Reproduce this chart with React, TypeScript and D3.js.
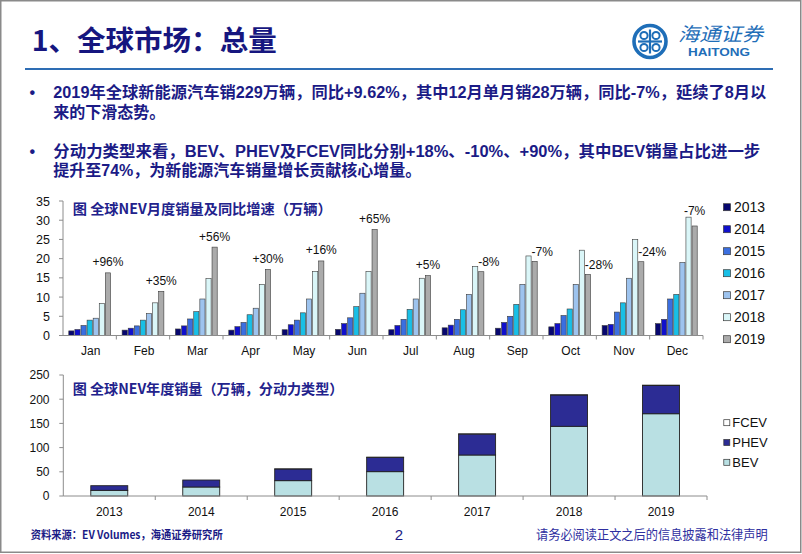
import React from "react";
import * as d3 from "d3";

// ---------- data ----------
const months = ["Jan", "Feb", "Mar", "Apr", "May", "Jun", "Jul", "Aug", "Sep", "Oct", "Nov", "Dec"];
const yearKeys = ["2013", "2014", "2015", "2016", "2017", "2018", "2019"];
const s2013 = [1.2, 1.4, 1.7, 1.4, 1.5, 1.6, 1.5, 2.0, 1.9, 2.25, 2.6, 3.1];
const s2014 = [1.56, 1.9, 2.5, 2.3, 2.8, 3.1, 2.6, 2.7, 3.4, 3.1, 2.9, 4.2];
const s2015 = [2.6, 2.5, 4.3, 3.4, 4.0, 4.6, 4.2, 4.2, 5.0, 5.2, 6.1, 9.5];
const s2016 = [4.0, 4.0, 6.2, 5.4, 5.9, 7.5, 6.8, 6.7, 8.1, 6.9, 8.5, 10.7];
const s2017 = [4.5, 5.7, 9.5, 7.1, 9.5, 11.0, 9.5, 10.7, 13.3, 13.3, 14.9, 19.0];
const s2018 = [8.3, 8.5, 14.8, 13.3, 16.7, 16.7, 14.9, 18.0, 20.7, 22.2, 25.0, 30.8];
const s2019 = [16.3, 11.5, 23.0, 17.2, 19.4, 27.6, 15.6, 16.6, 19.3, 15.9, 19.2, 28.5];
const yoyLabels = ["+96%", "+35%", "+56%", "+30%", "+16%", "+65%", "+5%", "-8%", "-7%", "-28%", "-24%", "-7%"];
const topTicks = [0, 5, 10, 15, 20, 25, 30, 35];

const annualYears = ["2013", "2014", "2015", "2016", "2017", "2018", "2019"];
const bev = [11.7, 18.6, 31.7, 50.3, 84.7, 144, 170];
const phev = [9.6, 14.4, 24.1, 29.6, 43.3, 64.7, 58.2];
const fcev = [0, 0, 0.1, 0.2, 0.3, 0.4, 0.8];
const typeKeys = ["BEV", "PHEV", "FCEV"];
const bottomTicks = [0, 50, 100, 150, 200, 250];

// ---------- styles ----------
const FONT = "'Liberation Sans', Arial, 'Noto Sans CJK SC', sans-serif";
const CJK = "'Noto Sans CJK SC', 'Liberation Sans', sans-serif";
const NAVY = "#1B1B86";
const AXIS = "#8C8C8C";
const yearColors = ["#07076E", "#1010CC", "#3B6FE0", "#19BFE6", "#9DC3EE", "#DAF6F8", "#ABABAB"];
const typeColors: Record<string, string> = { BEV: "#B9E0E3", PHEV: "#2C2C94", FCEV: "#FFFFFF" };

export default function App() {
  // ---------- top chart scales ----------
  const x0 = d3.scaleBand<string>().domain(months).range([63, 703]);
  const x1 = d3
    .scaleBand<string>()
    .domain(yearKeys)
    .range([0, x0.bandwidth()])
    .paddingInner(0.15)
    .paddingOuter(0.95);
  const yTop = d3.scaleLinear().domain([0, 35]).range([335.5, 201]);
  const monthly = [s2013, s2014, s2015, s2016, s2017, s2018, s2019];

  // ---------- bottom chart scales ----------
  const xb = d3.scaleBand<string>().domain(annualYears).range([63.3, 707]).paddingInner(0.598).paddingOuter(0.299);
  const yb = d3.scaleLinear().domain([0, 250]).range([496, 375]);
  const rows = annualYears.map((yr, i) => ({ year: yr, BEV: bev[i], PHEV: phev[i], FCEV: fcev[i] }));
  const stacked = d3.stack<any>().keys(typeKeys)(rows);

  const cx = (m: string, k: string) => (x0(m) as number) + (x1(k) as number);

  // logo swirl path
  const logoCx = 650;
  const logoCy = 41.5;

  return (
    <svg
      width={802}
      height={554}
      style={{ position: "absolute", left: 0, top: 0, display: "block", background: "#fff" }}
      fontFamily={FONT}
    >
      <rect x={0} y={0} width={802} height={554} fill="#fff" />
      <rect x={0.75} y={0.75} width={800} height={551.5} fill="none" stroke="#8A8A8A" strokeWidth={1.5} />

      {/* header */}
      <text x={31.7} y={51} fontSize={28} fontWeight="bold" fill="#16167F" fontFamily={CJK} textLength={245} lengthAdjust="spacingAndGlyphs">
        1、全球市场：总量
      </text>
      <line x1={25} x2={773} y1={69} y2={69} stroke="#2E6DB4" strokeWidth={1.8} />

      {/* logo */}
      <g>
        <circle cx={logoCx} cy={logoCy} r={16} fill="none" stroke="#1E6EB8" strokeWidth={3.6} />
        <line x1={logoCx} x2={logoCx} y1={logoCy - 12} y2={logoCy + 12} stroke="#1E6EB8" strokeWidth={2.2} />
        <line x1={logoCx - 12} x2={logoCx + 12} y1={logoCy} y2={logoCy} stroke="#1E6EB8" strokeWidth={2.2} />
        {[[-1, -1], [1, -1], [-1, 1], [1, 1]].map(([sx, sy], i) => (
          <circle key={i} cx={logoCx + sx * 6} cy={logoCy + sy * 6} r={3.6} fill="none" stroke="#1E6EB8" strokeWidth={2} />
        ))}
        <text x={678} y={41} fontSize={19} fontStyle="italic" fill="#1E6EB8" fontFamily={CJK} textLength={85} lengthAdjust="spacingAndGlyphs">
          海通证券
        </text>
        <text x={688} y={55.5} fontSize={10.5} fontWeight="bold" fill="#1E6EB8" textLength={62} lengthAdjust="spacingAndGlyphs">
          HAITONG
        </text>
      </g>

      {/* bullets */}
      <g fill={NAVY} fontWeight="bold" fontSize={16}>
        <text x={32.3} y={98} textAnchor="middle">•</text>
        <text x={53.3} y={98} textLength={713} lengthAdjust="spacingAndGlyphs">
          2019年全球新能源汽车销229万辆，同比+9.62%，其中12月单月销28万辆，同比-7%，延续了8月以
        </text>
        <text x={53.3} y={118}>来的下滑态势。</text>
        <text x={32.3} y={156.5} textAnchor="middle">•</text>
        <text x={53.3} y={156.5} textLength={707} lengthAdjust="spacingAndGlyphs">
          分动力类型来看，BEV、PHEV及FCEV同比分别+18%、-10%、+90%，其中BEV销量占比进一步
        </text>
        <text x={53.3} y={175.5}>提升至74%，为新能源汽车销量增长贡献核心增量。</text>
      </g>

      {/* ---------- top chart ---------- */}
      <text x={72.7} y={214} fontSize={14} fontWeight="bold" fill="#22228C" fontFamily={CJK} textLength={259} lengthAdjust="spacingAndGlyphs">
        图 全球NEV月度销量及同比增速（万辆）
      </text>
      {/* y axis */}
      <line x1={63} x2={63} y1={yTop(35)} y2={yTop(0)} stroke={AXIS} />
      {topTicks.map((t) => (
        <g key={t}>
          <line x1={59} x2={63} y1={yTop(t)} y2={yTop(t)} stroke={AXIS} />
          <text x={50} y={yTop(t) + 4.5} fontSize={12.5} textAnchor="end" fill="#111">
            {t}
          </text>
        </g>
      ))}
      {/* bars */}
      {months.map((m, mi) => (
        <g key={m}>
          {yearKeys.map((k, ki) => (
            <rect
              key={k}
              x={cx(m, k)}
              y={yTop(monthly[ki][mi])}
              width={x1.bandwidth()}
              height={yTop(0) - yTop(monthly[ki][mi])}
              fill={yearColors[ki]}
              stroke="#3A3A3A"
              strokeWidth={0.6}
            />
          ))}
        </g>
      ))}
      {/* x axis */}
      <line x1={63} x2={703} y1={yTop(0)} y2={yTop(0)} stroke={AXIS} />
      {months.map((m) => (
        <line key={m} x1={(x0(m) as number) + x0.bandwidth()} x2={(x0(m) as number) + x0.bandwidth()} y1={yTop(0)} y2={yTop(0) + 4} stroke={AXIS} />
      ))}
      {months.map((m) => (
        <text key={m} x={(x0(m) as number) + x0.bandwidth() / 2 + 1} y={355} fontSize={12} textAnchor="middle" fill="#111">
          {m}
        </text>
      ))}
      {/* yoy labels */}
      {months.map((m, mi) => {
        const lab = yoyLabels[mi];
        const top19 = yTop(s2019[mi]);
        const left19 = cx(m, "2019");
        const isLast = mi === months.length - 1;
        if (isLast) {
          const top = Math.min(top19, yTop(s2018[mi]));
          return (
            <text key={m} x={left19 + x1.bandwidth() / 2} y={top - 2.5} fontSize={12} textAnchor="middle" fill="#111">
              {lab}
            </text>
          );
        }
        if (lab.startsWith("-")) {
          return (
            <text key={m} x={left19 - 0.5} y={top19 - 5.5} fontSize={12} textAnchor="start" fill="#111">
              {lab}
            </text>
          );
        }
        return (
          <text key={m} x={left19 + x1.bandwidth() / 2} y={top19 - 6.5} fontSize={12} textAnchor="middle" fill="#111">
            {lab}
          </text>
        );
      })}
      {/* top legend */}
      {yearKeys.map((k, ki) => (
        <g key={k}>
          <rect x={723.5} y={207.3 + 22 * ki - 3.6} width={7} height={7} fill={yearColors[ki]} stroke="#3A3A3A" strokeWidth={0.7} />
          <text x={734} y={207.3 + 22 * ki + 5} fontSize={14} fill="#111">
            {k}
          </text>
        </g>
      ))}

      {/* ---------- bottom chart ---------- */}
      <text x={72.7} y={394} fontSize={14} fontWeight="bold" fill="#22228C" fontFamily={CJK} textLength={270.7} lengthAdjust="spacingAndGlyphs">
        图 全球NEV年度销量（万辆，分动力类型）
      </text>
      <line x1={63.3} x2={63.3} y1={yb(250)} y2={yb(0)} stroke={AXIS} />
      {bottomTicks.map((t) => (
        <g key={t}>
          <line x1={59.3} x2={63.3} y1={yb(t)} y2={yb(t)} stroke={AXIS} />
          <text x={49.5} y={yb(t) + 4.3} fontSize={12} textAnchor="end" fill="#111">
            {t}
          </text>
        </g>
      ))}
      {stacked.map((layer) => (
        <g key={layer.key}>
          {layer.map((d, i) => (
            <rect
              key={i}
              x={xb(annualYears[i]) as number}
              y={yb(d[1])}
              width={xb.bandwidth()}
              height={Math.max(0, yb(d[0]) - yb(d[1]))}
              fill={typeColors[layer.key]}
              stroke="#222"
              strokeWidth={0.9}
            />
          ))}
        </g>
      ))}
      <line x1={63.3} x2={707} y1={yb(0)} y2={yb(0)} stroke={AXIS} />
      {annualYears.map((yr) => {
        const step = xb.step();
        const bx = (xb(yr) as number) - (step - xb.bandwidth()) / 2 + step;
        return <line key={yr} x1={bx} x2={bx} y1={yb(0)} y2={yb(0) + 4} stroke={AXIS} />;
      })}
      {annualYears.map((yr) => (
        <text key={yr} x={(xb(yr) as number) + xb.bandwidth() / 2} y={515.5} fontSize={12} textAnchor="middle" fill="#111">
          {yr}
        </text>
      ))}
      {/* bottom legend */}
      {["FCEV", "PHEV", "BEV"].map((k, i) => {
        const cy = 422.7 + 19.8 * i;
        return (
          <g key={k}>
            <rect x={723.8} y={cy - 3} width={6} height={6} fill={typeColors[k]} stroke="#333" strokeWidth={0.7} />
            <text x={732.3} y={cy + 4.6} fontSize={13} fill="#111">
              {k}
            </text>
          </g>
        );
      })}

      {/* footer */}
      <text x={30.7} y={538.5} fontSize={11} fontWeight="bold" fill={NAVY} fontFamily={CJK} textLength={192} lengthAdjust="spacingAndGlyphs">
        资料来源：EV Volumes，海通证券研究所
      </text>
      <text x={399} y={540} fontSize={15} textAnchor="middle" fill={NAVY}>
        2
      </text>
      <text x={536} y={539} fontSize={13} fill="#2F2FA0" fontFamily={CJK} textLength={231.7} lengthAdjust="spacingAndGlyphs">
        请务必阅读正文之后的信息披露和法律声明
      </text>
    </svg>
  );
}
